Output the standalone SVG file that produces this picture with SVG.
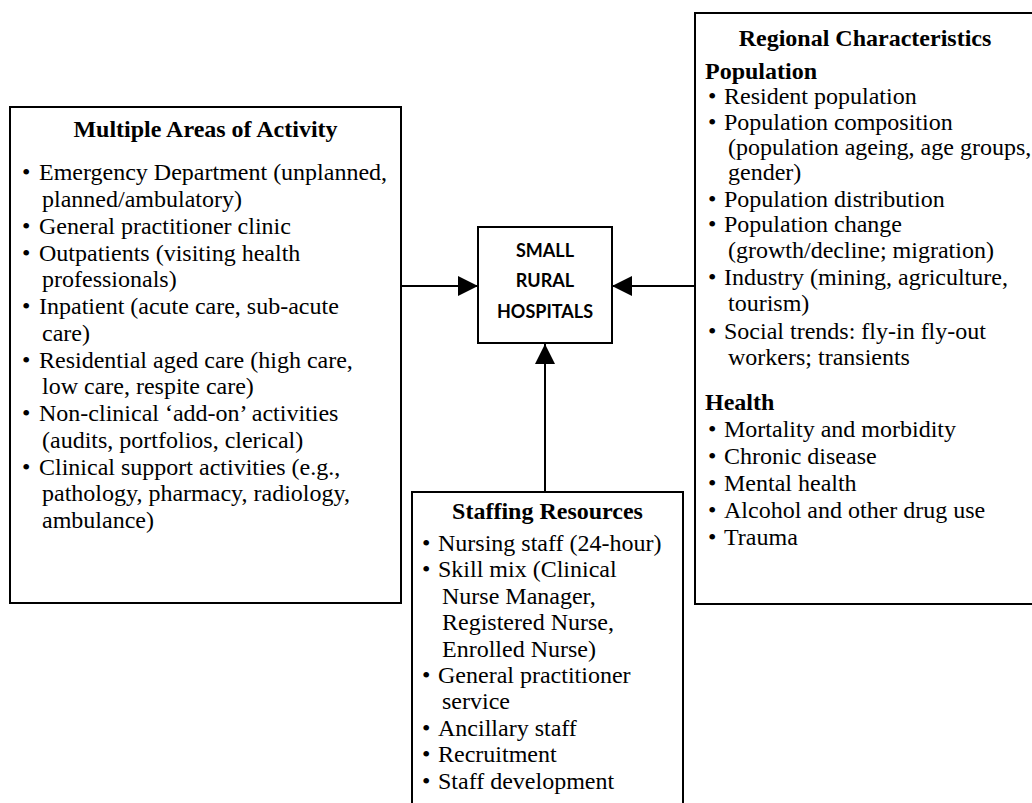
<svg xmlns="http://www.w3.org/2000/svg" width="1032" height="803" viewBox="0 0 1032 803">
<style>
.box{fill:#fff;stroke:#000;stroke-width:2}
.t{font-family:"Liberation Serif","Times New Roman",serif;font-size:24px;fill:#000}
.b{font-weight:bold}
.c{text-anchor:middle}
.s{font-family:Lato,"Open Sans",sans-serif;font-size:18px;font-weight:bold;text-anchor:middle;fill:#000}
.ln{stroke:#000;stroke-width:2;fill:none}
</style>
<defs>
<marker id="ah" viewBox="0 0 20 20" refX="20" refY="10" markerWidth="20" markerHeight="20" markerUnits="userSpaceOnUse" orient="auto">
<path d="M0,0 L20,10 L0,20 z" fill="#000"/>
</marker>
</defs>
<rect width="1032" height="803" fill="#fff"/>
<g id="connectors">
<line class="ln" x1="401" y1="286" x2="478" y2="286" marker-end="url(#ah)"/>
<line class="ln" x1="695" y1="286" x2="612" y2="286" marker-end="url(#ah)"/>
<line class="ln" x1="545" y1="492" x2="545" y2="344" marker-end="url(#ah)"/>
</g>
<g id="activity">
<rect class="box" x="10" y="107" width="391" height="496"/>
<text class="t b c" x="205.5" y="137">Multiple Areas of Activity</text>
<text class="t" x="22" y="180">•</text><text class="t" x="39" y="180">Emergency Department (unplanned,</text>
<text class="t" x="42" y="206.5">planned/ambulatory)</text>
<text class="t" x="22" y="233.5">•</text><text class="t" x="39" y="233.5">General practitioner clinic</text>
<text class="t" x="22" y="260.5">•</text><text class="t" x="39" y="260.5">Outpatients (visiting health</text>
<text class="t" x="42" y="287">professionals)</text>
<text class="t" x="22" y="314">•</text><text class="t" x="39" y="314">Inpatient (acute care, sub-acute</text>
<text class="t" x="42" y="340.5">care)</text>
<text class="t" x="22" y="367.5">•</text><text class="t" x="39" y="367.5">Residential aged care (high care,</text>
<text class="t" x="42" y="394">low care, respite care)</text>
<text class="t" x="22" y="421">•</text><text class="t" x="39" y="421">Non-clinical ‘add-on’ activities</text>
<text class="t" x="42" y="447.5">(audits, portfolios, clerical)</text>
<text class="t" x="22" y="474.5">•</text><text class="t" x="39" y="474.5">Clinical support activities (e.g.,</text>
<text class="t" x="42" y="501">pathology, pharmacy, radiology,</text>
<text class="t" x="42" y="528">ambulance)</text>
</g>
<g id="hospitals">
<rect class="box" x="478" y="227" width="134" height="116"/>
<text class="s" x="545" y="257">SMALL</text>
<text class="s" x="545" y="287">RURAL</text>
<text class="s" x="545" y="318">HOSPITALS</text>
</g>
<g id="regional">
<rect class="box" x="695" y="13" width="350" height="591"/>
<text class="t b c" x="865" y="46">Regional Characteristics</text>
<text class="t b" x="705" y="79">Population</text>
<text class="t" x="708" y="104">•</text><text class="t" x="724" y="104">Resident population</text>
<text class="t" x="708" y="129.5">•</text><text class="t" x="724" y="129.5">Population composition</text>
<text class="t" x="728" y="155">(population ageing, age groups,</text>
<text class="t" x="728" y="180">gender)</text>
<text class="t" x="708" y="207">•</text><text class="t" x="724" y="207">Population distribution</text>
<text class="t" x="708" y="232">•</text><text class="t" x="724" y="232">Population change</text>
<text class="t" x="728" y="258">(growth/decline; migration)</text>
<text class="t" x="708" y="285">•</text><text class="t" x="724" y="285">Industry (mining, agriculture,</text>
<text class="t" x="728" y="311">tourism)</text>
<text class="t" x="708" y="339">•</text><text class="t" x="724" y="339">Social trends: fly-in fly-out</text>
<text class="t" x="728" y="365">workers; transients</text>
<text class="t b" x="705" y="410">Health</text>
<text class="t" x="708" y="437">•</text><text class="t" x="724" y="437">Mortality and morbidity</text>
<text class="t" x="708" y="464">•</text><text class="t" x="724" y="464">Chronic disease</text>
<text class="t" x="708" y="491">•</text><text class="t" x="724" y="491">Mental health</text>
<text class="t" x="708" y="518">•</text><text class="t" x="724" y="518">Alcohol and other drug use</text>
<text class="t" x="708" y="545">•</text><text class="t" x="724" y="545">Trauma</text>
</g>
<g id="staffing">
<rect class="box" x="412" y="492" width="271" height="330"/>
<text class="t b c" x="547.5" y="519">Staffing Resources</text>
<text class="t" x="422" y="551">•</text><text class="t" x="438" y="551">Nursing staff (24-hour)</text>
<text class="t" x="422" y="577.4">•</text><text class="t" x="438" y="577.4">Skill mix (Clinical</text>
<text class="t" x="442" y="603.8">Nurse Manager,</text>
<text class="t" x="442" y="630.2">Registered Nurse,</text>
<text class="t" x="442" y="656.6">Enrolled Nurse)</text>
<text class="t" x="422" y="683">•</text><text class="t" x="438" y="683">General practitioner</text>
<text class="t" x="442" y="709.4">service</text>
<text class="t" x="422" y="735.8">•</text><text class="t" x="438" y="735.8">Ancillary staff</text>
<text class="t" x="422" y="762.2">•</text><text class="t" x="438" y="762.2">Recruitment</text>
<text class="t" x="422" y="788.6">•</text><text class="t" x="438" y="788.6">Staff development</text>
</g>
</svg>
